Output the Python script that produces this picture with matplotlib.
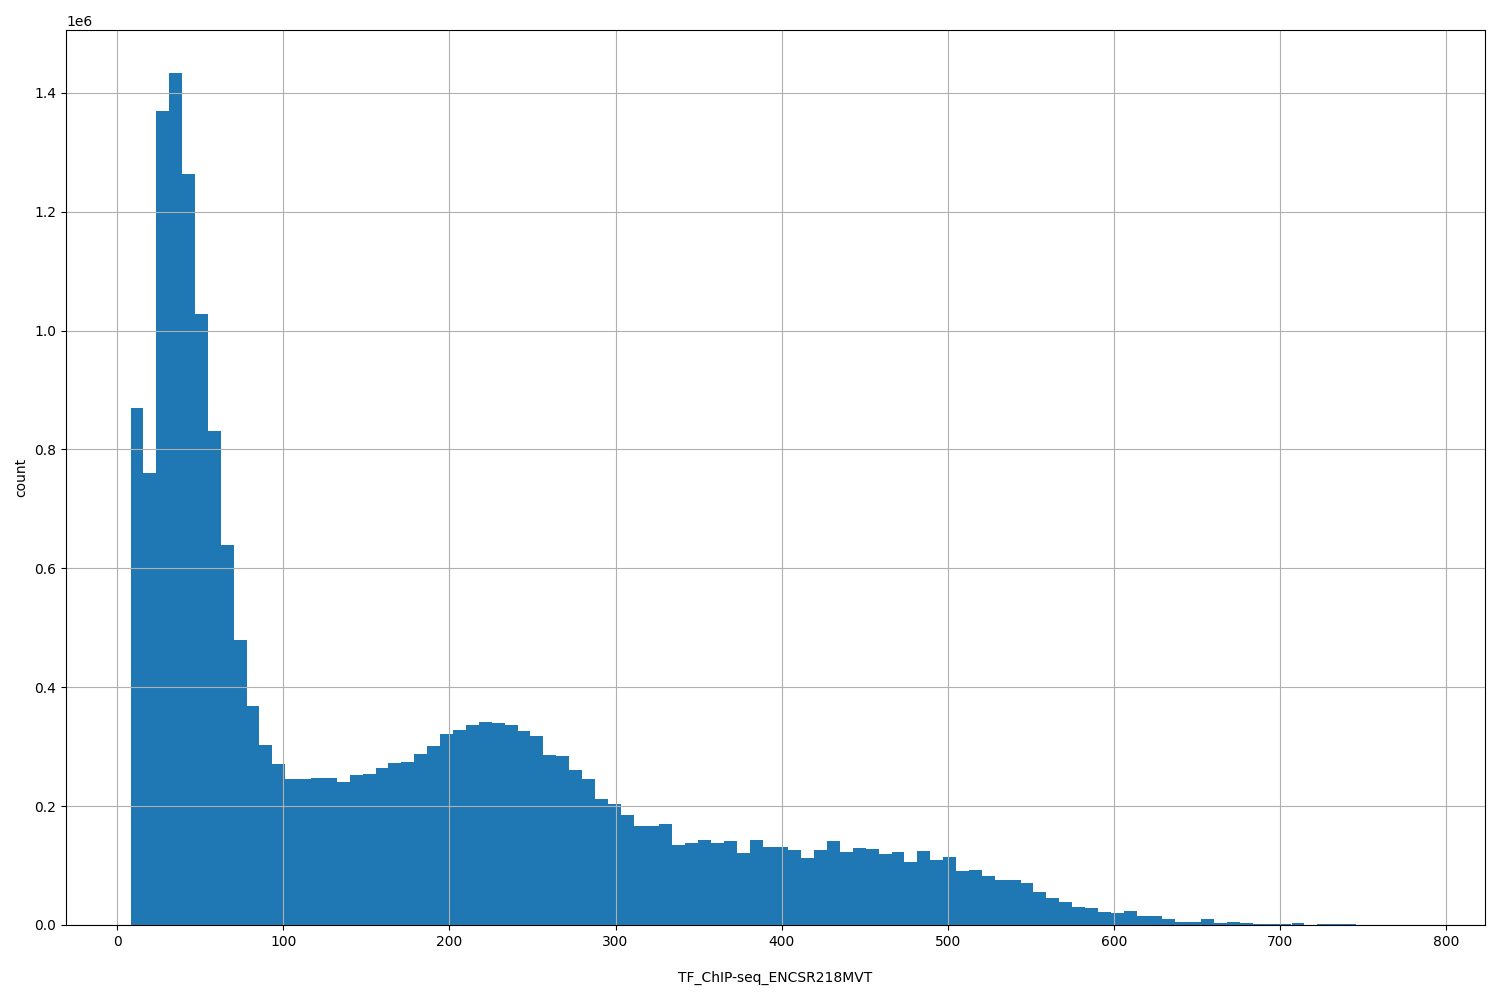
import numpy as np
import matplotlib
matplotlib.use("Agg")
import matplotlib.pyplot as plt

# histogram bin range (100 bins) and counts
x_min = 8.0
x_max = 784.6
n_bins = 100

counts = np.array([
    0.870, 0.761, 1.370, 1.434, 1.264, 1.028, 0.831, 0.639, 0.480, 0.369,
    0.303, 0.271, 0.246, 0.246, 0.247, 0.247, 0.241, 0.252, 0.254, 0.264,
    0.273, 0.274, 0.288, 0.301, 0.321, 0.328, 0.337, 0.342, 0.340, 0.337,
    0.326, 0.318, 0.286, 0.284, 0.261, 0.246, 0.212, 0.204, 0.185, 0.167,
    0.167, 0.170, 0.135, 0.138, 0.143, 0.138, 0.141, 0.121, 0.143, 0.131,
    0.131, 0.126, 0.113, 0.126, 0.141, 0.123, 0.130, 0.128, 0.119, 0.123,
    0.106, 0.125, 0.109, 0.114, 0.091, 0.093, 0.082, 0.076, 0.076, 0.071,
    0.056, 0.045, 0.039, 0.030, 0.029, 0.022, 0.020, 0.024, 0.015, 0.015,
    0.010, 0.005, 0.005, 0.010, 0.003, 0.005, 0.003, 0.002, 0.002, 0.002,
    0.003, 0.0008, 0.002, 0.002, 0.002, 0.0004, 0.0003, 0.0002, 0.0001, 0.0001,
]) * 1e6

x_label = "TF_ChIP-seq_ENCSR218MVT"
y_label = "count"

edges = np.linspace(x_min, x_max, n_bins + 1)

fig, ax = plt.subplots(figsize=(15, 10), dpi=100)
ax.hist(edges[:-1], bins=edges, weights=counts, color="#1f77b4")
ax.grid(True)
ax.set_xlabel(x_label, labelpad=16)
ax.set_ylabel(y_label)
ax.set_xticks(np.arange(0, 801, 100))

fig.subplots_adjust(left=0.044, right=0.99, top=0.97, bottom=0.075)
fig.savefig("out.png")
